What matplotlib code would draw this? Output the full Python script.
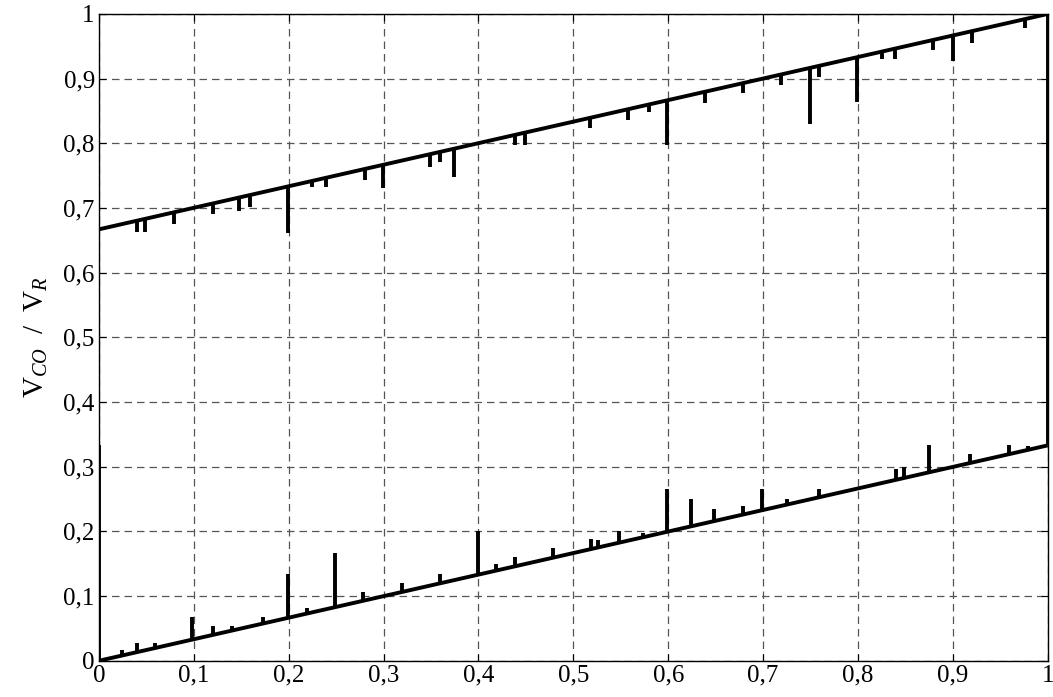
import numpy as np
import matplotlib
matplotlib.use('Agg')
import matplotlib.pyplot as plt
from matplotlib.ticker import FuncFormatter

plt.rcParams['font.family'] = ['Liberation Serif', 'DejaVu Serif']
plt.rcParams['mathtext.fontset'] = 'custom'
plt.rcParams['mathtext.rm'] = 'Liberation Serif'
plt.rcParams['mathtext.it'] = 'Liberation Serif:italic'

# straight parts of the two branches (end points)
lower_x = [0.0, 1.0]
lower_y = [0.0, 0.333]
upper_x = [0.0, 1.0]
upper_y = [0.667, 1.0]

# glitches on the lower branch: position and tip value
lower_spike_x = [0.024, 0.04, 0.059, 0.098, 0.12, 0.14, 0.173, 0.199, 0.219, 0.249,
                 0.278, 0.319, 0.359, 0.399, 0.418, 0.438, 0.479, 0.519, 0.526, 0.548,
                 0.573, 0.599, 0.624, 0.648, 0.679, 0.699, 0.725, 0.759, 0.84, 0.848,
                 0.875, 0.918, 0.959, 0.979]
lower_spike_y = [0.017, 0.028, 0.028, 0.067, 0.054, 0.054, 0.068, 0.134, 0.081, 0.167,
                 0.107, 0.12, 0.134, 0.2, 0.149, 0.161, 0.174, 0.189, 0.186, 0.2,
                 0.197, 0.266, 0.25, 0.235, 0.24, 0.266, 0.25, 0.266, 0.297, 0.299,
                 0.334, 0.32, 0.334, 0.332]

# glitches on the upper branch: position and tip value
upper_spike_x = [0.04, 0.048, 0.079, 0.12, 0.148, 0.159, 0.199, 0.224, 0.239, 0.28,
                 0.299, 0.349, 0.359, 0.374, 0.438, 0.449, 0.518, 0.558, 0.58, 0.599,
                 0.639, 0.679, 0.719, 0.749, 0.759, 0.799, 0.825, 0.839, 0.879, 0.9,
                 0.92, 0.976]
upper_spike_y = [0.663, 0.663, 0.676, 0.69, 0.696, 0.702, 0.662, 0.732, 0.732, 0.743,
                 0.731, 0.763, 0.771, 0.748, 0.797, 0.797, 0.823, 0.836, 0.849, 0.797,
                 0.863, 0.877, 0.89, 0.83, 0.902, 0.864, 0.93, 0.93, 0.944, 0.928,
                 0.955, 0.978]

# vertical jumps at the edges
left_jump = [0.0, 0.333]
right_jump = [0.333, 1.0]

fig = plt.figure(figsize=(10.53, 6.97), dpi=100)
ax = fig.add_axes([0.094, 0.052, 0.901, 0.928])

lw = 2.8
ax.plot(lower_x, lower_y, color='black', lw=lw, solid_capstyle='butt', zorder=3)
ax.plot(upper_x, upper_y, color='black', lw=lw, solid_capstyle='butt', zorder=3)

lower_base = np.interp(lower_spike_x, lower_x, lower_y)
upper_base = np.interp(upper_spike_x, upper_x, upper_y)
ax.vlines(lower_spike_x, lower_base, lower_spike_y, color='black', lw=lw, zorder=3)
ax.vlines(upper_spike_x, upper_spike_y, upper_base, color='black', lw=lw, zorder=3)

ax.vlines(0.0, left_jump[0], left_jump[1], color='black', lw=lw, zorder=3)
ax.vlines(1.0, right_jump[0], right_jump[1], color='black', lw=lw, zorder=3)

ax.set_xlim(0, 1)
ax.set_ylim(0, 1)
ticks = np.arange(0, 11) / 10
ax.set_xticks(ticks)
ax.set_yticks(ticks)


def comma(v, pos):
    if abs(v) < 1e-9:
        return '0'
    if abs(v - 1) < 1e-9:
        return '1'
    return f'{v:.1f}'.replace('.', ',')


ax.xaxis.set_major_formatter(FuncFormatter(comma))
ax.yaxis.set_major_formatter(FuncFormatter(comma))
ax.tick_params(direction='in', length=5, width=0.8, labelsize=18, pad=3,
               top=True, right=True)
ax.grid(True, color='#555555', linestyle=(0, (6, 4)), linewidth=0.9)
for s in ax.spines.values():
    s.set_linewidth(1.0)

ax.set_ylabel(r'$\mathrm{V}_{CO}\ \ /\ \ \mathrm{V}_R$', fontsize=21, labelpad=10)

fig.savefig('out.png', dpi=100)
